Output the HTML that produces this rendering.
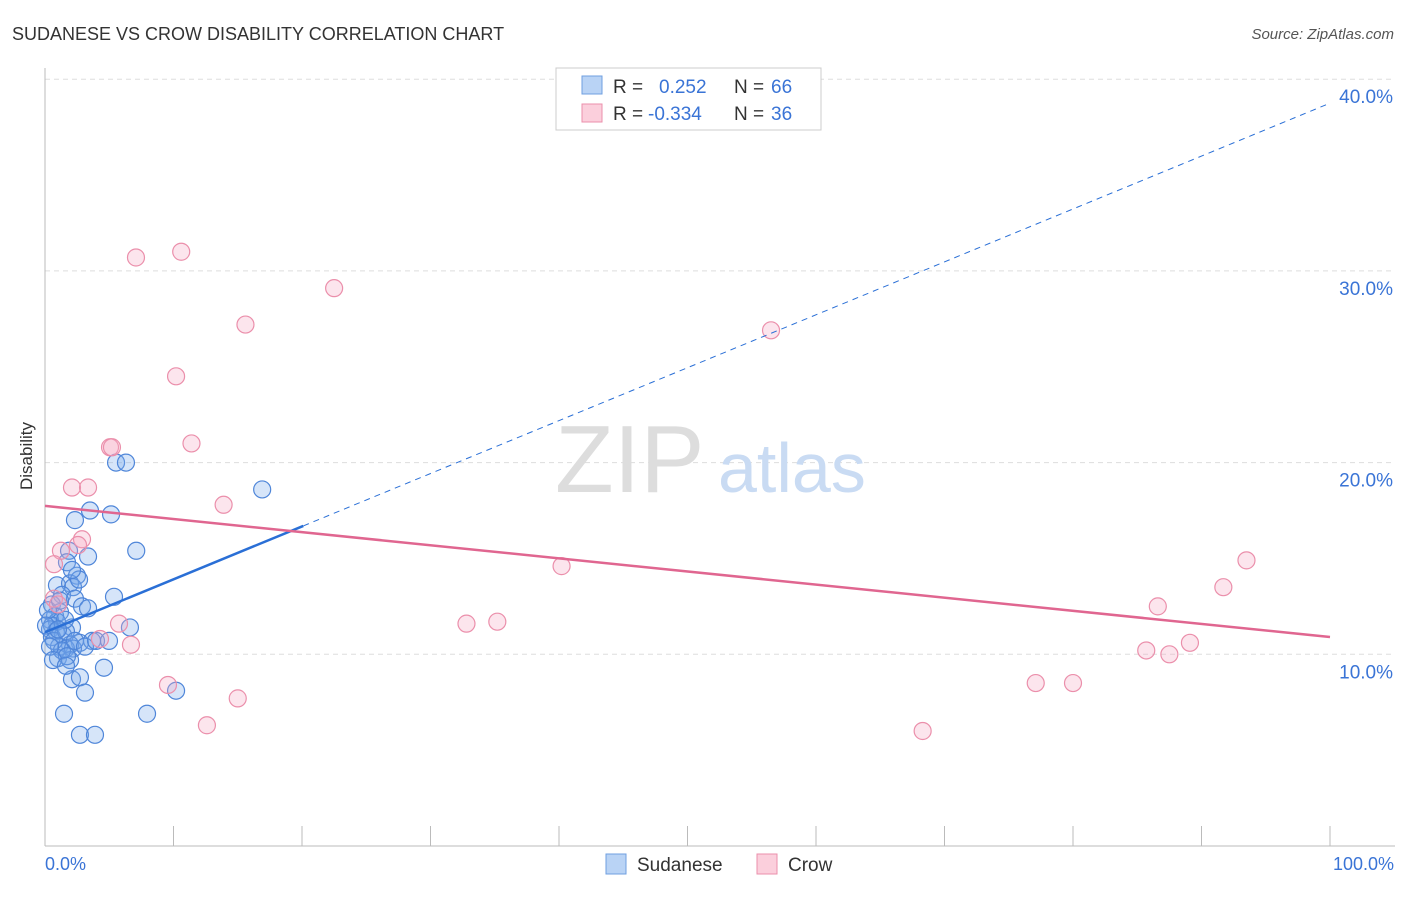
<!DOCTYPE html>
<html><head><meta charset="utf-8"><style>
body{margin:0;background:#fff;font-family:"Liberation Sans",sans-serif}
svg text{font-family:"Liberation Sans",sans-serif}
</style></head><body>
<svg id="chart" width="1406" height="892" xmlns="http://www.w3.org/2000/svg">
<text x="12" y="40" font-size="18" fill="#333">SUDANESE VS CROW DISABILITY CORRELATION CHART</text>
<text x="1394" y="39" font-size="15" fill="#555" text-anchor="end" font-style="italic">Source: ZipAtlas.com</text>
<text x="32" y="456" font-size="17" fill="#333" transform="rotate(-90 32 456)" text-anchor="middle">Disability</text>
<g id="grid"></g>
<line x1="45" y1="68" x2="45" y2="846" stroke="#bbb"/>
<line x1="45" y1="846" x2="1395" y2="846" stroke="#bbb"/>
<g id="xticks"></g>
<text x="45" y="870" font-size="18" fill="#3a74d6">0.0%</text>
<text x="1394" y="870" font-size="18" fill="#3a74d6" text-anchor="end">100.0%</text>
<text x="555" y="492" font-size="96" fill="#ddd" font-family="Liberation Serif">ZIP</text>
<text x="718" y="492" font-size="70" fill="#c9dbf3">atlas</text>
<g id="pts"></g>
<g id="trends"></g>
<g>
<rect x="556" y="68" width="265" height="62" fill="#fff" stroke="#ccc"/>
<rect x="582" y="76" width="20" height="18" fill="#b9d3f5" stroke="#6f9fe0"/>
<rect x="582" y="104" width="20" height="18" fill="#fbcfdc" stroke="#eb8fab"/>
<text x="613" y="93" font-size="19" fill="#333">R = </text><text x="659" y="93" font-size="19" fill="#3a74d6">0.252</text>
<text x="734" y="93" font-size="19" fill="#333">N = </text><text x="771" y="93" font-size="19" fill="#3a74d6">66</text>
<text x="613" y="120" font-size="19" fill="#333">R = </text><text x="648" y="120" font-size="19" fill="#3a74d6">-0.334</text>
<text x="734" y="120" font-size="19" fill="#333">N = </text><text x="771" y="120" font-size="19" fill="#3a74d6">36</text>
</g>
<g>
<rect x="606" y="854" width="20" height="20" fill="#b9d3f5" stroke="#6f9fe0"/>
<text x="637" y="871" font-size="19" fill="#333">Sudanese</text>
<rect x="757" y="854" width="20" height="20" fill="#fbcfdc" stroke="#eb8fab"/>
<text x="788" y="871" font-size="19" fill="#333">Crow</text>
</g>
</svg>
<script>
const yTicks=[10,20,30,40];
const yTickLabels=["10.0%","20.0%","30.0%","40.0%"];
const xTickVals=[0,10,20,30,40,50,60,70,80,90,100];
const sudX=[5.53,6.3,16.9,3.5,5.14,2.33,7.1,1.87,3.35,1.71,2.49,0.93,1.95,2.18,1.32,2.33,5.37,0.54,2.88,3.35,1.17,0.78,0.39,0.93,0.54,2.1,6.61,0.39,0.86,1.4,0.54,2.72,3.66,1.95,1.09,1.63,2.18,1.01,1.95,4.59,2.1,2.72,3.11,10.2,1.48,7.94,2.72,3.89,0.23,0.08,0.7,1.32,1.71,1.17,1.63,2.33,3.11,0.39,0.62,3.97,1.56,1.01,2.65,2.1,4.98,1.63];
const sudY=[20.0,20.0,18.6,17.5,17.3,17.0,15.4,15.4,15.1,14.8,14.1,13.6,13.7,13.5,13.1,12.9,13.0,12.6,12.5,12.4,12.2,12.0,11.8,11.7,11.5,11.4,11.4,11.3,11.2,11.0,10.9,10.6,10.7,10.5,10.4,10.3,10.3,9.8,9.7,9.3,8.7,8.8,8.0,8.1,6.9,6.9,5.8,5.8,12.3,11.5,10.7,10.2,9.9,12.8,11.2,10.7,10.4,10.4,9.7,10.7,11.8,11.3,13.9,14.4,10.7,9.4];
const crowX=[10.6,7.08,22.5,15.6,56.5,10.2,5.06,5.21,11.4,2.1,3.35,13.9,2.88,2.57,1.24,0.7,40.2,93.5,91.7,86.6,5.76,32.8,35.2,6.69,4.28,85.7,87.5,89.1,9.57,15.0,77.1,80.0,12.6,68.3,0.7,1.01];
const crowY=[31.0,30.7,29.1,27.2,26.9,24.5,20.8,20.8,21.0,18.7,18.7,17.8,16.0,15.7,15.4,14.7,14.6,14.9,13.5,12.5,11.6,11.6,11.7,10.5,10.8,10.2,10.0,10.6,8.4,7.7,8.5,8.5,6.3,6.0,12.9,12.6];
const sudTrend=[11.15,0.276], crowTrend=[17.74,-0.0684];
const X=v=>45+v*12.85, Y=v=>846-v*19.17;
const NS="http://www.w3.org/2000/svg";
function mk(tag,attrs,parent){const e=document.createElementNS(NS,tag);for(const k in attrs)e.setAttribute(k,attrs[k]);document.getElementById(parent).appendChild(e);return e;}
yTicks.forEach((t,i)=>{
 const l=mk('line',{x1:45,x2:1395,y1:Y(t),y2:Y(t),stroke:'#ddd','stroke-dasharray':'5,4'},'grid');
 
 
 const tx=mk('text',{x:1393,y:Y(t)+24,'font-size':19,fill:'#3a74d6','text-anchor':'end'},'grid');
 tx.textContent=yTickLabels[i];
 
 
});
xTickVals.forEach(v=>{
 const l=mk('line',{x1:X(v),x2:X(v),y1:826,y2:846,stroke:'#bbb'},'xticks');
 
 
});
sudX.forEach((x,i)=>{
 const c=mk('circle',{cx:X(x),cy:Y(sudY[i]),r:8.5,fill:'rgba(120,170,235,0.3)',stroke:'#4f86d9','stroke-width':1.2},'pts');
 
 
});
crowX.forEach((x,i)=>{
 const c=mk('circle',{cx:X(x),cy:Y(crowY[i]),r:8.5,fill:'rgba(245,170,195,0.3)',stroke:'#eb8fab','stroke-width':1.2},'pts');
 
 
});
const sx=Math.max(...sudX)+3.2;
let t1=mk('line',{x1:X(0),y1:Y(sudTrend[0]),x2:X(sx),y2:Y(sudTrend[0]+sudTrend[1]*sx),stroke:'#2a6fd6','stroke-width':2.5},'trends');


let t2=mk('line',{x1:X(sx),y1:Y(sudTrend[0]+sudTrend[1]*sx),x2:X(100),y2:Y(sudTrend[0]+sudTrend[1]*100),stroke:'#2a6fd6','stroke-width':1,'stroke-dasharray':'6,5'},'trends');


let t3=mk('line',{x1:X(0),y1:Y(crowTrend[0]),x2:X(100),y2:Y(crowTrend[0]+crowTrend[1]*100),stroke:'#e06690','stroke-width':2.5},'trends');


</script>
</body></html>
